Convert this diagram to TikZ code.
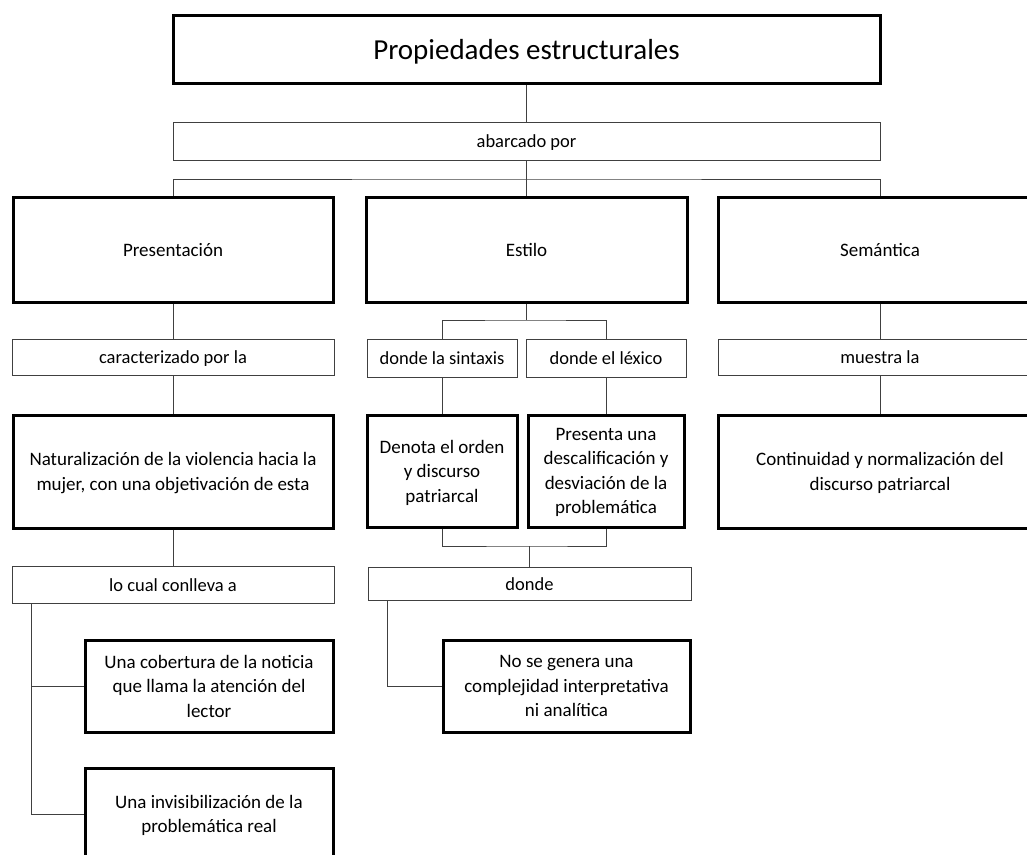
\documentclass[tikz,border=0pt]{standalone}
\usepackage{fontspec}
\setmainfont{Carlito}
\usetikzlibrary{positioning}

\begin{document}
\begin{tikzpicture}[x=1pt, y=-1pt,
  every node/.style={inner sep=0pt, text depth=-2pt, font=\fontsize{19}{24.5}\selectfont},
  bigbox/.style={draw=black, line width=3pt, align=center},
  linkbox/.style={draw=black!75, line width=1pt, text height=13pt, text depth=-1pt, font=\fontsize{18.5}{24.5}\selectfont},
  conn/.style={draw=black!75, line width=1pt}]
  \clip (0,0) rectangle (1027,854);
  % top of the chart
  \node[bigbox, minimum width=707pt, minimum height=68pt, text depth=0pt, font=\fontsize{29}{34}\selectfont] (title) at (526.5,49) {Propiedades estructurales};
  \node[linkbox, minimum width=707pt, minimum height=38pt] (abarcado) at (526.5,141) {abarcado por};
  % the three properties
  \node[bigbox, minimum width=320pt, minimum height=105pt] (pres) at (173,249.5) {Presentación};
  \node[bigbox, minimum width=321pt, minimum height=105pt] (estilo) at (526.5,249.5) {Estilo};
  \node[bigbox, minimum width=324pt, minimum height=105pt] (seman) at (880,249.5) {Semántica};
  % link words under each property
  \node[linkbox, minimum width=322pt, minimum height=36pt] (caract) at (173,357) {caracterizado por la};
  \node[linkbox, minimum width=150pt, minimum height=38pt] (sintaxis) at (442,358) {donde la sintaxis};
  \node[linkbox, minimum width=160pt, minimum height=38pt] (lexico) at (606,358) {donde el léxico};
  \node[linkbox, minimum width=324pt, minimum height=36pt] (muestra) at (880,357) {muestra la};
  % what each one shows
  \node[bigbox, minimum width=320pt, minimum height=113pt] (natur) at (173,471.5) {Naturalización de la violencia hacia la\\mujer, con una objetivación de esta};
  \node[bigbox, minimum width=150pt, minimum height=112pt] (denota) at (442,471) {Denota el orden\\y discurso\\patriarcal};
  \node[bigbox, minimum width=156pt, minimum height=112pt] (presenta) at (606,471) {Presenta una\\descalificación y\\desviación de la\\problemática};
  \node[bigbox, minimum width=324pt, minimum height=113pt] (contin) at (880,471.5) {Continuidad y normalización del\\discurso patriarcal};
  % consequences
  \node[linkbox, minimum width=322pt, minimum height=37pt] (locual) at (173,584.5) {lo cual conlleva a};
  \node[linkbox, minimum width=323pt, minimum height=33pt] (donde) at (529.5,583.5) {donde};
  \node[bigbox, minimum width=248pt, minimum height=92pt] (cobert) at (209,686) {Una cobertura de la noticia\\que llama la atención del\\lector};
  \node[bigbox, minimum width=247pt, minimum height=92pt] (nogen) at (566.5,686) {No se genera una\\complejidad interpretativa\\ni analítica};
  \node[bigbox, minimum width=248pt, minimum height=92pt] (invis) at (209,814) {Una invisibilización de la\\problemática real};
  % connectors
  \coordinate (topbar) at (526.5,179);
  \coordinate (stylebar) at (526.5,320);
  \coordinate (pairbar) at (529.5,546);
  \coordinate (lcfoot) at ([xshift=20pt]locual.south west);
  \coordinate (dfoot) at ([xshift=20pt]donde.south west);
  \draw[conn] (title) -- (abarcado);
  \draw[conn] (abarcado) -- (estilo);
  \draw[conn] (pres.north) |- (topbar) -| (seman.north);
  \draw[conn] (pres) -- (caract);
  \draw[conn] (caract) -- (natur);
  \draw[conn] (natur) -- (locual);
  \draw[conn] (estilo) -- (stylebar);
  \draw[conn] (sintaxis.north) |- (stylebar) -| (lexico.north);
  \draw[conn] (sintaxis) -- (denota);
  \draw[conn] (lexico) -- (presenta);
  \draw[conn] (denota.south) |- (pairbar) -| (presenta.south);
  \draw[conn] (pairbar) -- (donde);
  \draw[conn] (seman) -- (muestra);
  \draw[conn] (muestra) -- (contin);
  \draw[conn] (lcfoot) |- (invis.west);
  \draw[conn] (lcfoot |- cobert.west) -- (cobert.west);
  \draw[conn] (dfoot) |- (nogen.west);
\end{tikzpicture}
\end{document}
